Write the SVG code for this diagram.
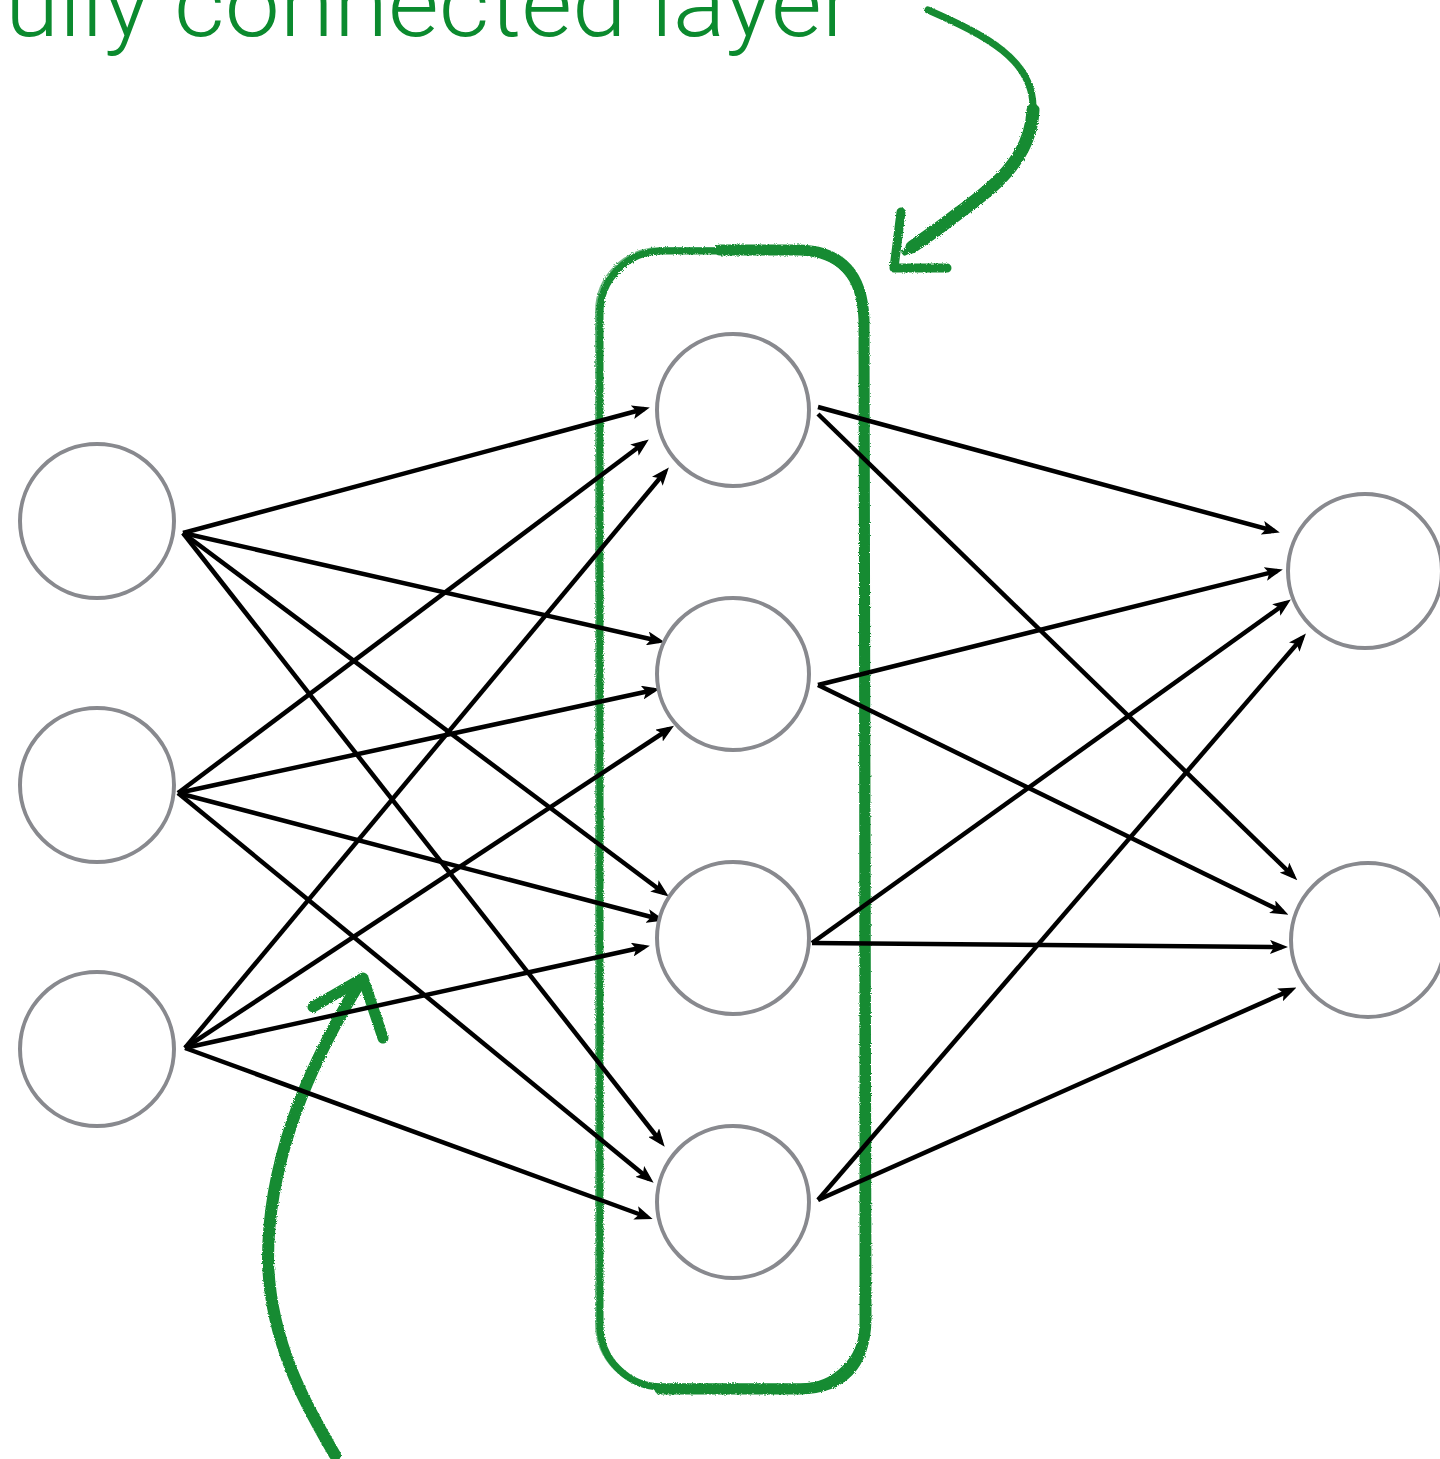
<svg xmlns="http://www.w3.org/2000/svg" width="1440" height="1459" viewBox="0 0 1440 1459">
<defs>
<style>
.node{fill:#fff;stroke:#88898e;stroke-width:4}
.edge{stroke:#000;stroke-width:4.5;fill:none;marker-end:url(#ah)}
.gr{fill:none;stroke:#138b32;stroke-linecap:round;stroke-linejoin:round}
.lbl{font-family:Roboto,"Liberation Sans",sans-serif;font-weight:300;font-size:95px;fill:#0b8a2e}
</style>
<marker id="ah" markerUnits="userSpaceOnUse" markerWidth="18" markerHeight="14" viewBox="0 0 18 14" refX="12" refY="7" orient="auto">
<path d="M0,0 L18,7 L0,14 L4,7 Z" fill="#000"/>
</marker>
<filter id="rough" x="-10%" y="-10%" width="120%" height="120%">
<feTurbulence type="fractalNoise" baseFrequency="0.9" numOctaves="2" seed="3"/>
<feDisplacementMap in="SourceGraphic" scale="3"/>
</filter>
</defs>
<rect width="1440" height="1459" fill="#fff"/>
<text class="lbl" x="5" y="36" textLength="850" lengthAdjust="spacingAndGlyphs">ully connected layer</text>

<g id="layer-box" filter="url(#rough)">
<rect class="gr" x="600" y="251" width="263" height="1136" rx="62" stroke-width="7"/>
<rect class="gr" x="596" y="248" width="268" height="1140" rx="64" stroke-width="2" opacity="0.6"/>
<path class="gr" d="M720,250 L800,250 Q862,252 864,320 L866,1320 Q864,1388 800,1389 L660,1389" stroke-width="11"/>
</g>

<g id="callout-top" filter="url(#rough)">
<path class="gr" d="M928,10 C985,35 1035,60 1033,110 C1031,160 990,190 960,212 C935,230 915,245 905,252" stroke-width="7"/>
<path class="gr" d="M1033,110 C1031,160 990,190 960,212 C942,226 925,238 912,247" stroke-width="13"/>
<path class="gr" d="M901,212 L894,268 L947,268" stroke-width="9"/>
</g>

<g id="callout-bottom" filter="url(#rough)">
<path class="gr" d="M335,1455 C315,1420 270,1350 268,1260 C268,1170 300,1080 360,982" stroke-width="12"/>
<path class="gr" d="M313,1007 L363,978 L383,1038" stroke-width="11"/>
</g>

<g id="connectors">
<line class="edge" x1="183" y1="533" x2="644" y2="409"/>
<line class="edge" x1="183" y1="533" x2="659" y2="641"/>
<line class="edge" x1="183" y1="533" x2="664" y2="893"/>
<line class="edge" x1="183" y1="533" x2="661" y2="1142"/>
<line class="edge" x1="178" y1="793" x2="644" y2="443"/>
<line class="edge" x1="178" y1="793" x2="654" y2="690"/>
<line class="edge" x1="178" y1="793" x2="659" y2="919"/>
<line class="edge" x1="178" y1="793" x2="649" y2="1179"/>
<line class="edge" x1="185" y1="1048" x2="665" y2="472"/>
<line class="edge" x1="185" y1="1048" x2="669" y2="729"/>
<line class="edge" x1="185" y1="1048" x2="644" y2="947"/>
<line class="edge" x1="185" y1="1048" x2="647" y2="1217"/>
<line class="edge" x1="818" y1="407" x2="1274" y2="531"/>
<line class="edge" x1="818" y1="414" x2="1293" y2="876"/>
<line class="edge" x1="818" y1="685" x2="1277" y2="571"/>
<line class="edge" x1="818" y1="685" x2="1283" y2="912"/>
<line class="edge" x1="812" y1="943" x2="1286" y2="603"/>
<line class="edge" x1="812" y1="943" x2="1282" y2="947"/>
<line class="edge" x1="818" y1="1200" x2="1302" y2="638"/>
<line class="edge" x1="818" y1="1200" x2="1291" y2="990"/>
</g>

<g id="in1"><circle class="node" cx="97" cy="521" r="77"/></g>
<g id="in2"><circle class="node" cx="97" cy="785" r="77"/></g>
<g id="in3"><circle class="node" cx="97" cy="1049" r="77"/></g>
<g id="h1"><circle class="node" cx="733" cy="410" r="76"/></g>
<g id="h2"><circle class="node" cx="733" cy="674" r="76"/></g>
<g id="h3"><circle class="node" cx="733" cy="938" r="76"/></g>
<g id="h4"><circle class="node" cx="733" cy="1202" r="76"/></g>
<g id="out1"><circle class="node" cx="1365" cy="571" r="77"/></g>
<g id="out2"><circle class="node" cx="1368" cy="940" r="77"/></g>
</svg>
